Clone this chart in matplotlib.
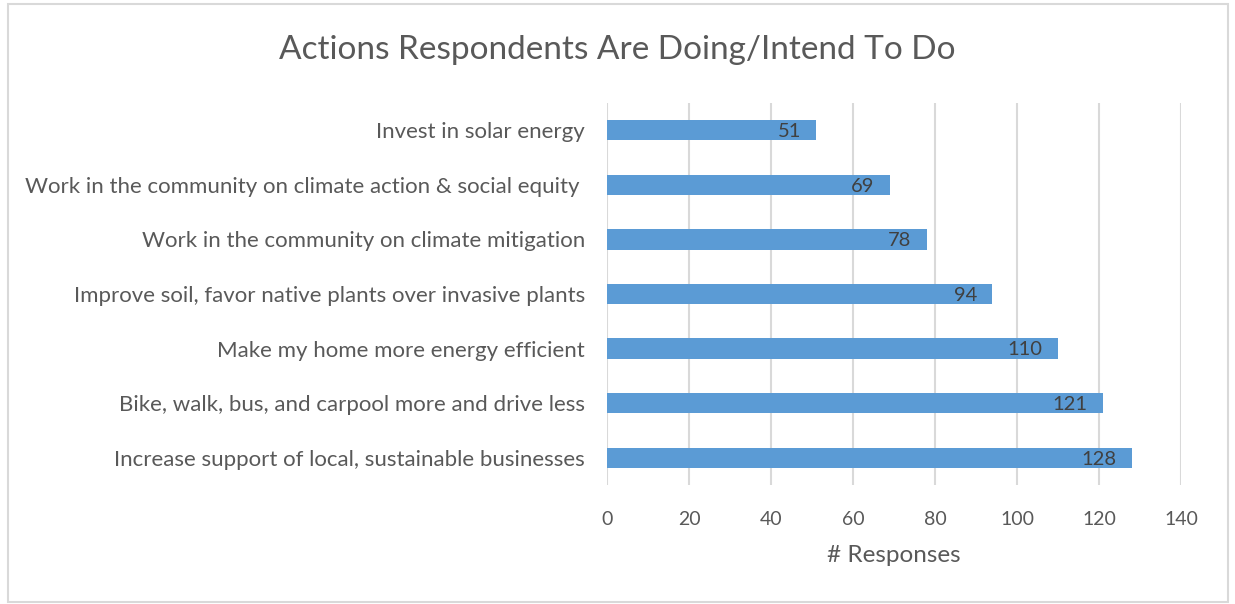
import matplotlib.pyplot as plt
from matplotlib.patches import Rectangle

actions = [
    "Increase support of local, sustainable businesses",
    "Bike, walk, bus, and carpool more and drive less",
    "Make my home more energy efficient",
    "Improve soil, favor native plants over invasive plants",
    "Work in the community on climate mitigation",
    "Work in the community on climate action & social equity ",
    "Invest in solar energy",
]
responses = [128, 121, 110, 94, 78, 69, 51]
xticks = [0, 20, 40, 60, 80, 100, 120, 140]

grey = '#595959'
plt.rcParams['font.family'] = ['Lato', 'DejaVu Sans']

fig = plt.figure(figsize=(12.35, 6.04), dpi=100)
ax = fig.add_axes([0.4915, 0.197, 0.4648, 0.6325])

ypos = range(len(actions))
bars = ax.barh(ypos, responses, height=0.37, color='#5B9BD5', zorder=3)
for b, v in zip(bars, responses):
    ax.annotate(str(v), (v, b.get_y() + b.get_height() / 2),
                xytext=(-11, -1), textcoords='offset points',
                ha='right', va='center', fontsize=14.5, color='#404040', zorder=4)

ax.set_xlim(0, 140)
ax.set_ylim(-0.5, len(actions) - 0.5)
ax.set_xticks(xticks)
ax.set_yticks(list(ypos))
ax.set_yticklabels(actions, fontsize=16)
ax.tick_params(axis='both', length=0, labelcolor=grey)
ax.tick_params(axis='x', pad=19, labelsize=14)
ax.tick_params(axis='y', pad=16)
ax.grid(axis='x', color='#d9d9d9', linewidth=1.5, zorder=0)
for s in ax.spines.values():
    s.set_visible(False)

ax.set_xlabel('# Responses', fontsize=17.5, color=grey, labelpad=12)
fig.text(0.5, 0.918, 'Actions Respondents Are Doing/Intend To Do',
         ha='center', va='center', fontsize=24, color=grey)

fig.patches.append(Rectangle((8 / 1235, 2 / 604), 1220 / 1235, 598 / 604,
                             transform=fig.transFigure, fill=False,
                             edgecolor='#d9d9d9', linewidth=1.5))

fig.savefig('out.png', dpi=100)
